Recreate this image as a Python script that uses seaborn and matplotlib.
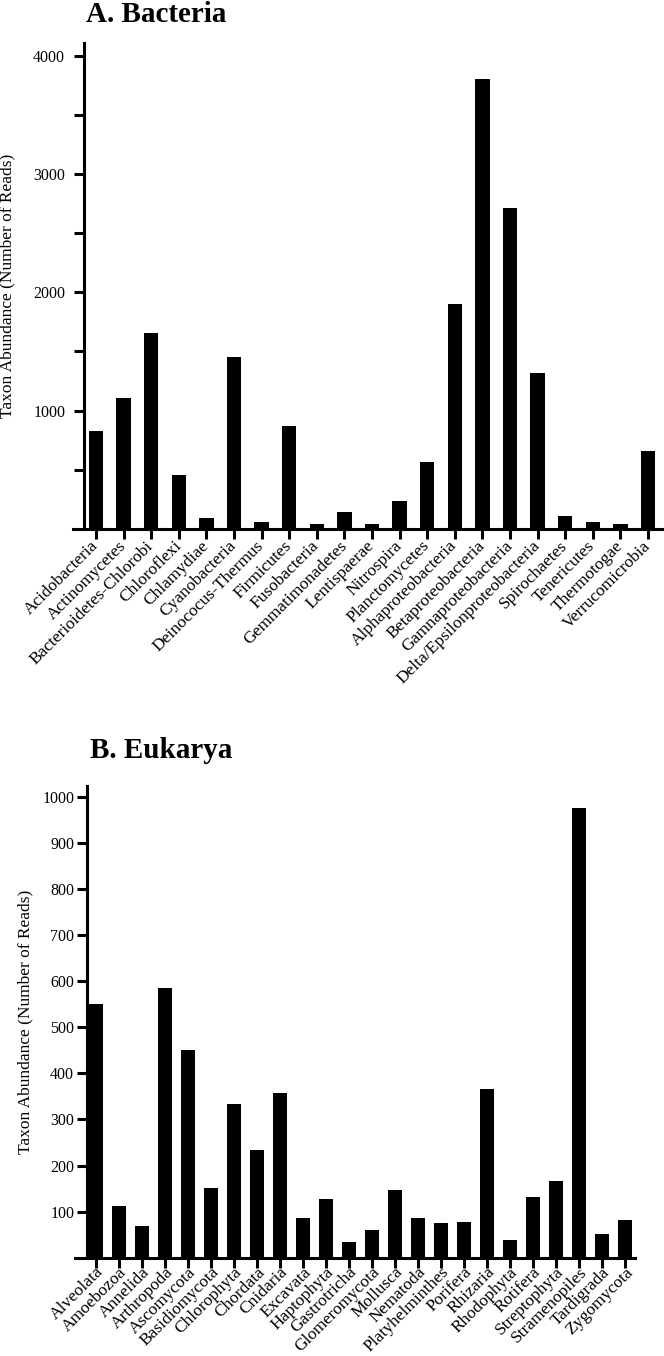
import matplotlib
matplotlib.use('Agg')
import matplotlib.pyplot as plt
import seaborn as sns

# Taxon abundance values
bacteria = ['Acidobacteria', 'Actinomycetes', 'Bacterioidetes-Chlorobi', 'Chloroflexi',
            'Chlamydiae', 'Cyanobacteria', 'Deinococus-Thermus', 'Firmicutes',
            'Fusobacteria', 'Gemmatimonadetes', 'Lentispaerae', 'Nitrospira',
            'Planctomycetes', 'Alphaproteobacteria', 'Betaproteobacteria',
            'Gamnaproteobacteria', 'Delta/Epsilonproteobacteria', 'Spirochaetes',
            'Tenericutes', 'Thermotogae', 'Verrucomicrobia']
bacteria_reads = [831, 1110, 1654, 454, 96, 1456, 62, 873, 40, 141, 40, 237,
                  566, 1901, 3800, 2710, 1316, 113, 59, 40, 656]

eukarya = ['Alveolata', 'Amoebozoa', 'Annelida', 'Arthropoda', 'Ascomycota',
           'Basidiomycota', 'Chlorophyta', 'Chordata', 'Cnidaria', 'Excavata',
           'Haptophyta', 'Gastrotricha', 'Glomeromycota', 'Mollusca', 'Nematoda',
           'Platyhelminthes', 'Porifera', 'Rhizaria', 'Rhodophyta', 'Rotifera',
           'Streptophyta', 'Stramenopiles', 'Tardigrada', 'Zygomycota']
eukarya_reads = [550, 112, 70, 584, 450, 152, 334, 234, 357, 86, 128, 34, 60,
                 146, 86, 75, 78, 365, 39, 131, 167, 975, 52, 81]

bact_ticks = [500, 1000, 1500, 2000, 2500, 3000, 3500, 4000]
bact_ticklabels = ['', '1000', '', '2000', '', '3000', '', '4000']
euk_ticks = [100, 200, 300, 400, 500, 600, 700, 800, 900, 1000]

sns.set_style('ticks')
plt.rcParams['font.family'] = ['Liberation Serif', 'DejaVu Serif']
for k in ['text.color', 'axes.labelcolor', 'xtick.color', 'ytick.color', 'axes.edgecolor']:
    plt.rcParams[k] = 'black'

W, H = 664, 1356
fig = plt.figure(figsize=(W / 100, H / 100), dpi=100)
ax1 = fig.add_axes([73 / W, 1 - 529 / H, 591 / W, 486 / H])
ax2 = fig.add_axes([75 / W, 1 - 1257.8 / H, 560 / W, 471.8 / H])


def prism_bars(ax, names, vals, width, xlim, yspine, ytop, ticks, ticklabels,
               label_x, ypad, xva, xpad):
    sns.barplot(x=names, y=vals, color='black', saturation=1, width=width,
                linewidth=0, ax=ax)
    ax.set_xlim(*xlim)
    ax.set_ylim(0, ytop)
    for s in ['top', 'right']:
        ax.spines[s].set_visible(False)
    ax.spines['left'].set_position(('data', yspine))
    for s in ['left', 'bottom']:
        ax.spines[s].set_linewidth(2.2)
    ax.set_yticks(ticks)
    ax.set_yticklabels(ticklabels, fontsize=11.5)
    ax.tick_params(axis='both', width=2.2, length=7, direction='out')
    ax.tick_params(axis='y', pad=ypad)
    ax.tick_params(axis='x', pad=xpad)
    ax.set_xticks(range(len(names)))
    ax.set_xticklabels(names, rotation=45, ha='right', va=xva,
                       rotation_mode='anchor', fontsize=12.5)
    ax.set_xlabel('')
    ax.set_ylabel('Taxon Abundance (Number of Reads)', fontsize=12.5)
    ax.yaxis.set_label_coords(label_x, 0.5)


prism_bars(ax1, bacteria, bacteria_reads, 0.52, (-0.833, 20.58), -0.435, 4107,
           bact_ticks, bact_ticklabels, -0.098, 6.5, 'center', 3.5)
prism_bars(ax2, eukarya, eukarya_reads, 0.62, (-0.9, 23.45), -0.39, 1023,
           euk_ticks, [str(t) for t in euk_ticks], -0.075, 2, 'top', -2.5)

fig.text(86 / W, 1 - 22 / H, 'A. Bacteria', fontsize=21, fontweight='bold',
         ha='left', va='baseline')
fig.text(90 / W, 1 - 758 / H, 'B. Eukarya', fontsize=21, fontweight='bold',
         ha='left', va='baseline')

fig.savefig('out.png', dpi=100)
plt.close(fig)
